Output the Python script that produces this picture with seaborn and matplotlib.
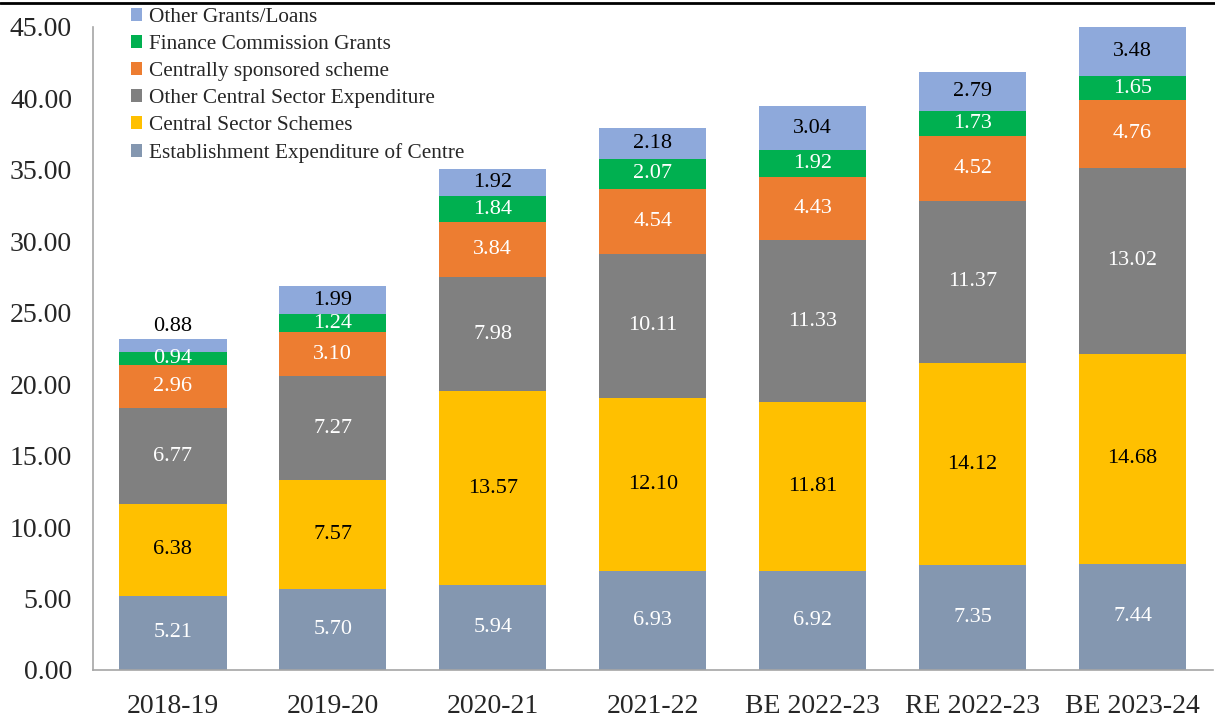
import numpy as np
import pandas as pd
import matplotlib
matplotlib.use("Agg")
import matplotlib.pyplot as plt
from matplotlib.lines import Line2D
from matplotlib.patches import Patch
import seaborn as sns

# data (Rs lakh crore)
years = ['2018-19', '2019-20', '2020-21', '2021-22', 'BE 2022-23', 'RE 2022-23', 'BE 2023-24']
series = ['Establishment Expenditure of Centre', 'Central Sector Schemes',
          'Other Central Sector Expenditure', 'Centrally sponsored scheme',
          'Finance Commission Grants', 'Other Grants/Loans']
establishment = [5.21, 5.70, 5.94, 6.93, 6.92, 7.35, 7.44]
central_sector = [6.38, 7.57, 13.57, 12.10, 11.81, 14.12, 14.68]
other_central = [6.77, 7.27, 7.98, 10.11, 11.33, 11.37, 13.02]
css = [2.96, 3.10, 3.84, 4.54, 4.43, 4.52, 4.76]
fin_comm = [0.94, 1.24, 1.84, 2.07, 1.92, 1.73, 1.65]
other_grants = [0.88, 1.99, 1.92, 2.18, 3.04, 2.79, 3.48]

colors = ['#8497B0', '#FFC000', '#808080', '#ED7D31', '#00B050', '#8EA9DB']
label_colors = ['white', 'black', 'white', 'white', 'white', 'black']

values = np.array([establishment, central_sector, other_central, css, fin_comm, other_grants])
cum = values.cumsum(axis=0)

sns.set_style("white")
plt.rcParams['font.family'] = ['Liberation Serif', 'DejaVu Serif']

fig = plt.figure(figsize=(12.15, 7.18), dpi=100)
ax = fig.add_axes([0.0765, 0.0669, 0.9215, 0.8955])

# draw cumulative totals from the top down so each layer covers the one above
for i in range(len(series) - 1, -1, -1):
    df = pd.DataFrame({'year': years, 'total': cum[i]})
    sns.barplot(data=df, x='year', y='total', color=colors[i], width=0.67,
                saturation=1, linewidth=0, ax=ax)

# value labels
for i in range(len(series)):
    for j in range(len(years)):
        v = values[i, j]
        if i == len(series) - 1 and v < 1:
            ax.text(j, cum[i, j] + 0.25, '%.2f' % v, ha='center', va='bottom',
                    fontsize=16, color='black')
        else:
            ax.text(j, cum[i, j] - v / 2, '%.2f' % v, ha='center', va='center',
                    fontsize=16, color=label_colors[i])

ax.set_ylim(0, 45)
ax.set_xlim(-0.5, len(years) - 0.5)
ax.set_yticks(np.arange(0, 46, 5))
ax.set_yticklabels(['%.2f' % t for t in np.arange(0, 46, 5)], fontsize=20)
ax.set_xticks(range(len(years)))
ax.set_xticklabels(years, fontsize=20)
ax.set_xticks(np.arange(-0.5, len(years), 1), minor=True)
ax.tick_params(axis='x', which='major', length=0, pad=17)
ax.tick_params(axis='x', which='minor', length=8, color='#A6A6A6', direction='out')
ax.tick_params(axis='y', length=7, color='#A6A6A6', direction='out', pad=8)
ax.set_xlabel('')
ax.set_ylabel('')
for s in ['top', 'right']:
    ax.spines[s].set_visible(False)
for s in ['left', 'bottom']:
    ax.spines[s].set_color('#A6A6A6')
    ax.spines[s].set_linewidth(1.2)

handles = [Patch(facecolor=colors[i], edgecolor='none') for i in range(len(series) - 1, -1, -1)]
labels = [series[i] for i in range(len(series) - 1, -1, -1)]
ax.legend(handles, labels, loc='upper left', bbox_to_anchor=(0.026, 1.043), frameon=False,
          fontsize=15.3, handlelength=0.55, handleheight=0.55, handletextpad=0.3,
          labelspacing=0.38, borderaxespad=0)

# thin rule at the very top of the image
fig.add_artist(Line2D([0, 1], [0.996, 0.996], color='black', linewidth=2, transform=fig.transFigure))

fig.savefig('out.png', dpi=100)
